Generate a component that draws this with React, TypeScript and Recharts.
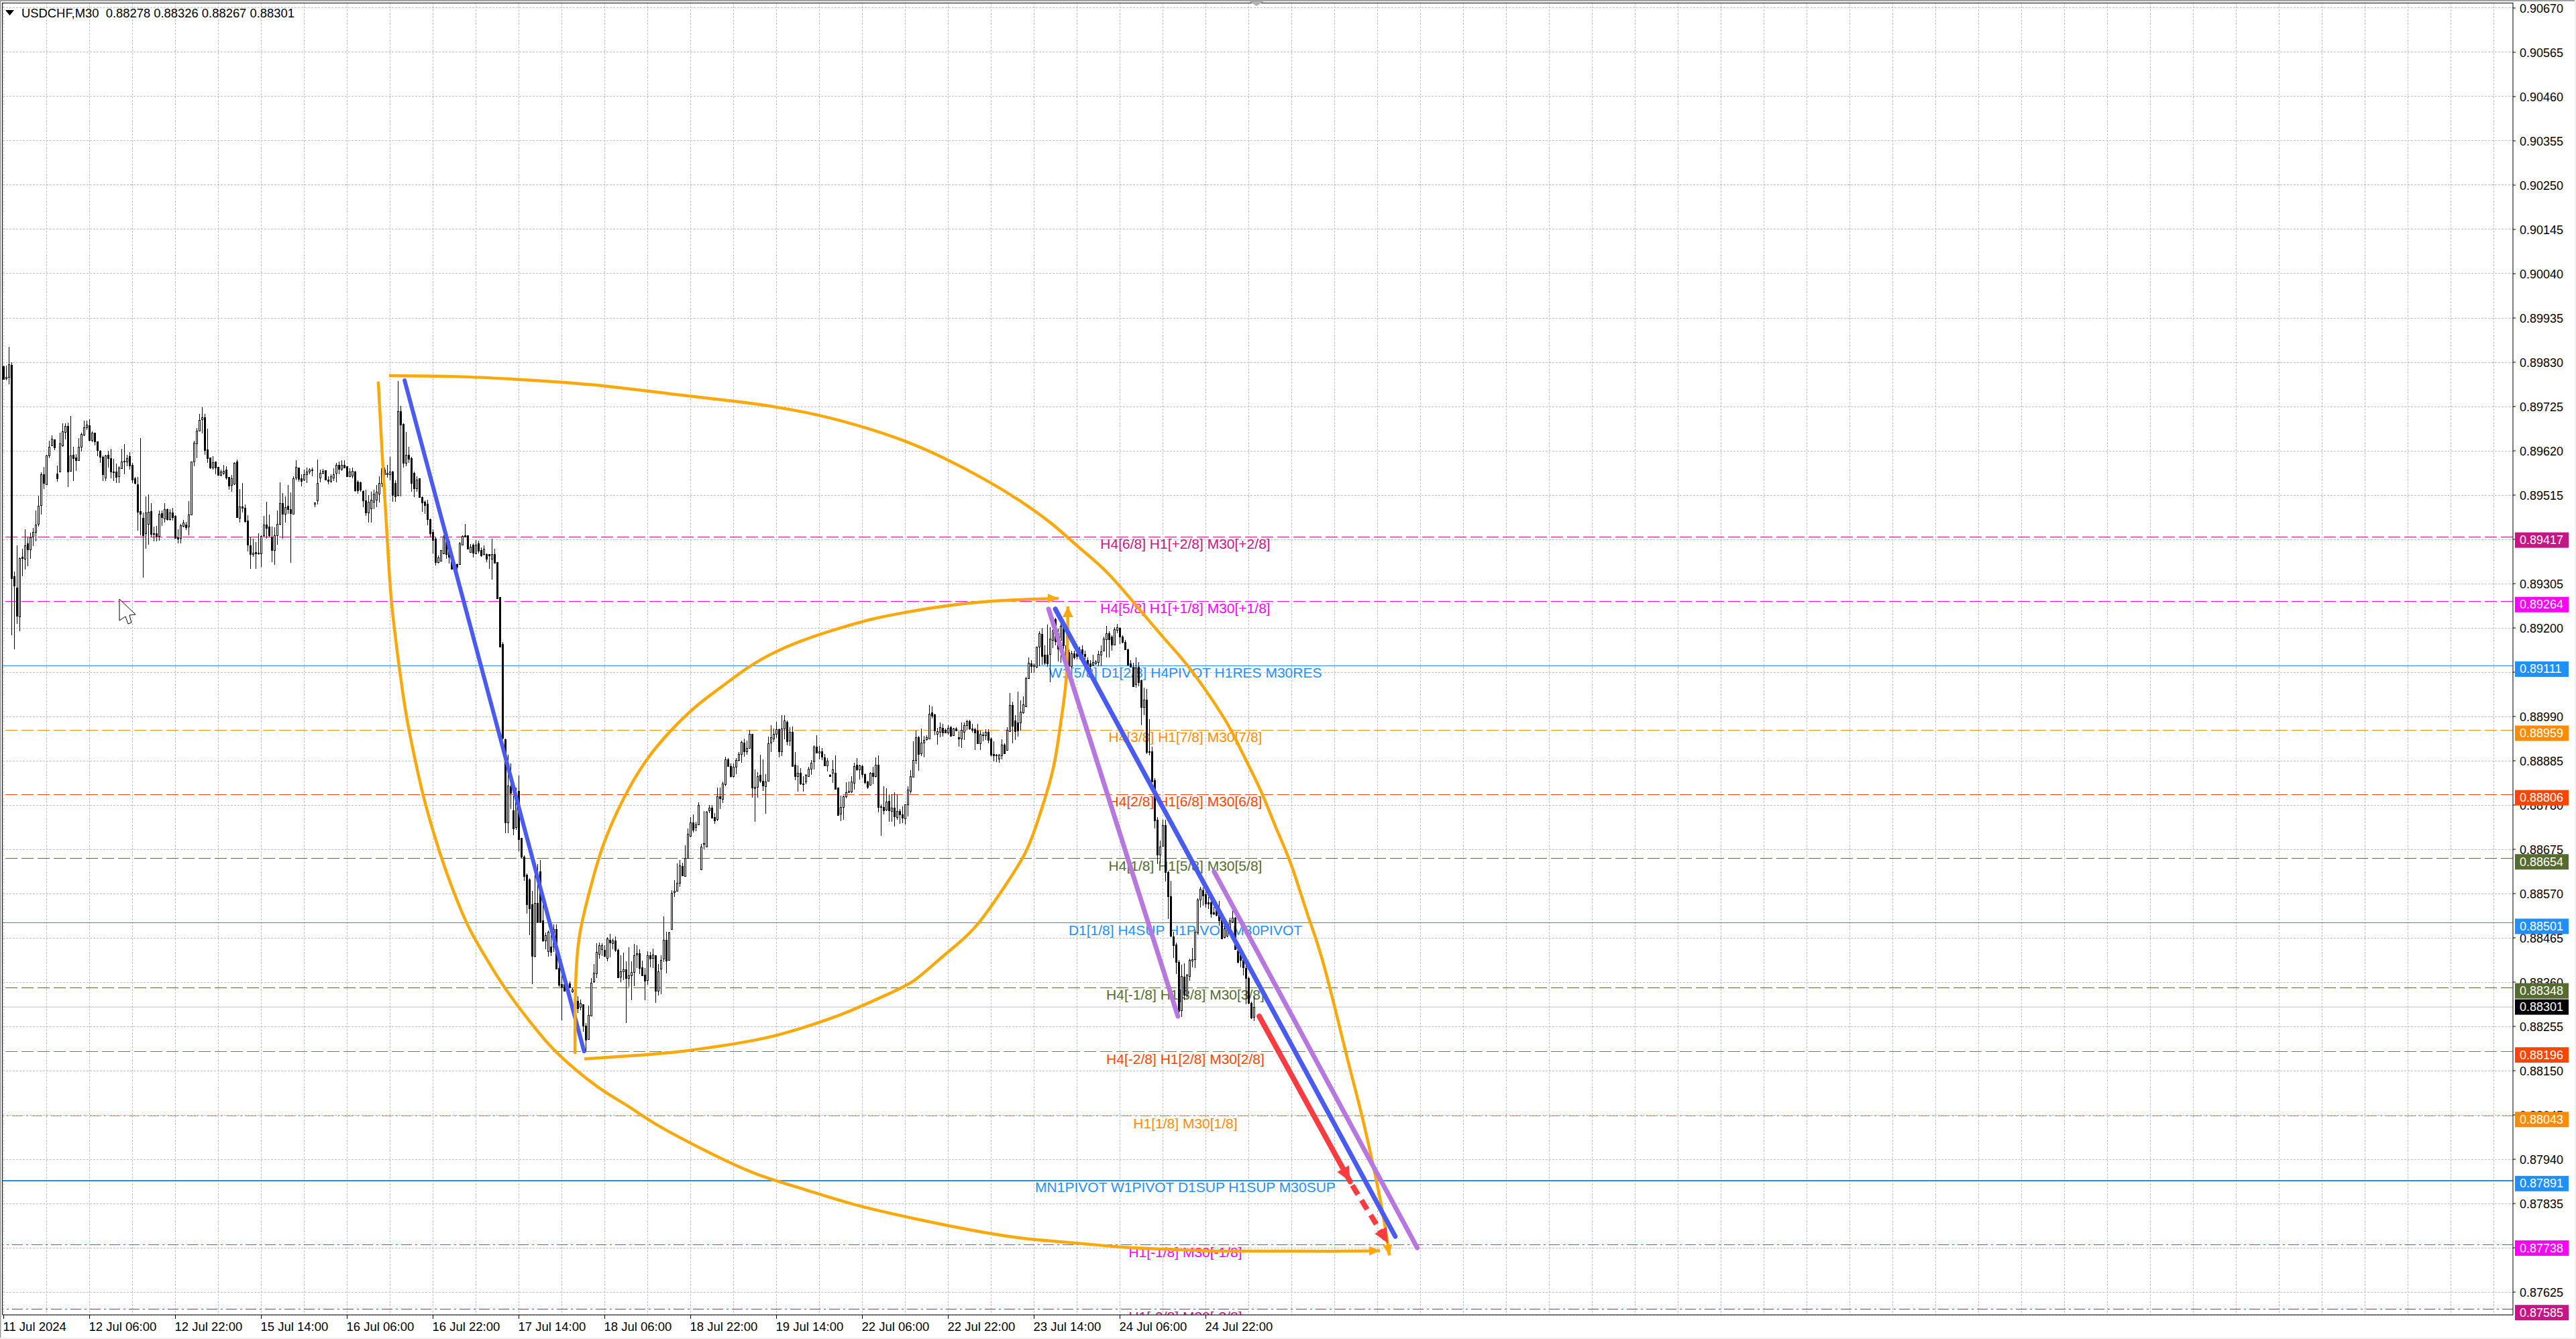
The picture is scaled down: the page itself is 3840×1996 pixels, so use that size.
import React from "react";
import {
  ComposedChart,
  Bar,
  Line,
  XAxis,
  YAxis,
  CartesianGrid,
  ReferenceLine,
} from "recharts";

// USDCHF M30 candles, prices in points (1e-5)
const opens = [
  89820, 89792, 89795, 89824, 89322, 89295, 89227, 89369, 89364, 89400,
  89386, 89416, 89427, 89446, 89491, 89564, 89541, 89609, 89633, 89647,
  89566, 89571, 89632, 89664, 89679, 89572, 89610, 89604, 89597, 89630,
  89658, 89676, 89681, 89646, 89663, 89642, 89620, 89605, 89557, 89610,
  89602, 89571, 89571, 89559, 89578, 89596, 89594, 89607, 89587, 89554,
  89541, 89477, 89461, 89424, 89446, 89477, 89424, 89424, 89418, 89472,
  89460, 89482, 89457, 89474, 89465, 89414, 89413, 89442, 89445, 89440,
  89469, 89594, 89638, 89668, 89694, 89699, 89623, 89604, 89580, 89594,
  89582, 89562, 89568, 89575, 89558, 89539, 89542, 89594, 89461, 89488,
  89484, 89454, 89396, 89375, 89379, 89378, 89376, 89419, 89445, 89441,
  89415, 89384, 89419, 89446, 89496, 89471, 89489, 89482, 89471, 89557,
  89580, 89555, 89552, 89564, 89571, 89575, 89494, 89503, 89557, 89568,
  89574, 89552, 89549, 89557, 89567, 89587, 89577, 89587, 89584, 89560,
  89561, 89571, 89547, 89546, 89525, 89502, 89473, 89483, 89499, 89504,
  89518, 89544, 89576, 89565, 89565, 89571, 89544, 89515, 89714, 89684,
  89592, 89610, 89603, 89568, 89531, 89555, 89511, 89499, 89494, 89457,
  89428, 89412, 89356, 89359, 89377, 89417, 89406, 89375, 89351, 89351,
  89351, 89398, 89419, 89419, 89380, 89398, 89377, 89401, 89385, 89375,
  89375, 89375, 89364, 89375, 89356, 89273, 89162, 88936, 88738, 88824,
  88768, 88727, 88813, 88702, 88658, 88614, 88604, 88544, 88422, 88548,
  88623, 88507, 88458, 88434, 88444, 88444, 88485, 88394, 88356, 88356,
  88343, 88357, 88337, 88321, 88315, 88301, 88307, 88256, 88225, 88280,
  88361, 88381, 88427, 88438, 88437, 88418, 88461, 88453, 88459, 88437,
  88372, 88385, 88390, 88370, 88376, 88384, 88425, 88429, 88395, 88377,
  88365, 88423, 88418, 88423, 88340, 88392, 88415, 88461, 88413, 88485,
  88574, 88577, 88596, 88636, 88611, 88655, 88707, 88738, 88727, 88734,
  88628, 88690, 88682, 88768, 88773, 88752, 88746, 88800, 88794, 88830,
  88889, 88872, 88848, 88870, 88887, 88901, 88928, 88908, 88915, 88948,
  88820, 88823, 88851, 88838, 88825, 88837, 88928, 88938, 88948, 88960,
  88908, 88961, 88978, 88932, 88954, 88875, 88849, 88857, 88831, 88835,
  88849, 88866, 88883, 88919, 88904, 88908, 88893, 88874, 88852, 88856,
  88857, 88821, 88759, 88775, 88801, 88811, 88812, 88833, 88876, 88864,
  88873, 88854, 88835, 88827, 88857, 88849, 88876, 88777, 88776, 88769,
  88789, 88766, 88774, 88752, 88765, 88757, 88749, 88781, 88813, 88847,
  88886, 88941, 88902, 88928, 88936, 88938, 88999, 88995, 88949, 88953,
  88963, 88958, 88952, 88965, 88945, 88962, 88941, 88938, 88953, 88970,
  88979, 88962, 88960, 88957, 88927, 88945, 88945, 88953, 88937, 88901,
  88899, 88890, 88898, 88924, 88911, 88955, 89017, 88980, 88976, 88976,
  88999, 89014, 89081, 89115, 89110, 89108, 89155, 89185, 89136, 89136,
  89138, 89172, 89221, 89188, 89172, 89203, 89159, 89143, 89110, 89140,
  89140, 89149, 89149, 89138, 89123, 89115, 89113, 89115, 89119, 89136,
  89146, 89173, 89187, 89179, 89160, 89195, 89200, 89180, 89166, 89149,
  89115, 89108, 89066, 89107, 89076, 89012, 89030, 88908, 88908, 88839,
  88745, 88663, 88683, 88733, 88621, 88563, 88469, 88449, 88408, 88294,
  88373, 88329, 88375, 88411, 88414, 88477, 88555, 88578, 88568, 88549,
  88549, 88526, 88533, 88519, 88510, 88466, 88470, 88484, 88503, 88513,
  88435, 88425, 88412, 88394, 88369, 88311, 88278,
];

const highs = [
  89822, 89822, 89866, 89830, 89334, 89395, 89367, 89388, 89434, 89417,
  89426, 89437, 89478, 89514, 89569, 89582, 89610, 89644, 89656, 89647,
  89585, 89663, 89686, 89685, 89687, 89702, 89629, 89612, 89650, 89663,
  89691, 89691, 89695, 89666, 89663, 89642, 89622, 89609, 89610, 89620,
  89625, 89601, 89589, 89584, 89624, 89636, 89610, 89617, 89591, 89558,
  89558, 89650, 89473, 89512, 89516, 89496, 89441, 89442, 89478, 89478,
  89496, 89483, 89482, 89485, 89467, 89434, 89446, 89456, 89451, 89501,
  89594, 89644, 89674, 89708, 89724, 89707, 89672, 89604, 89608, 89594,
  89582, 89575, 89587, 89584, 89558, 89562, 89593, 89600, 89529, 89543,
  89493, 89467, 89414, 89412, 89404, 89425, 89420, 89466, 89499, 89469,
  89441, 89438, 89478, 89545, 89520, 89512, 89539, 89522, 89560, 89597,
  89581, 89565, 89576, 89580, 89579, 89581, 89497, 89600, 89576, 89577,
  89574, 89560, 89565, 89579, 89592, 89594, 89598, 89597, 89584, 89579,
  89581, 89573, 89550, 89547, 89526, 89528, 89515, 89523, 89528, 89539,
  89560, 89595, 89581, 89587, 89605, 89573, 89550, 89785, 89727, 89685,
  89665, 89629, 89605, 89571, 89560, 89555, 89512, 89502, 89504, 89459,
  89434, 89414, 89372, 89385, 89420, 89420, 89406, 89375, 89361, 89353,
  89404, 89420, 89447, 89420, 89399, 89401, 89409, 89407, 89391, 89396,
  89377, 89375, 89411, 89388, 89356, 89274, 89166, 88938, 88900, 88878,
  88802, 88821, 88850, 88702, 88661, 88617, 88607, 88576, 88614, 88640,
  88650, 88544, 88478, 88482, 88500, 88497, 88497, 88403, 88381, 88359,
  88361, 88361, 88346, 88324, 88326, 88319, 88308, 88263, 88304, 88369,
  88403, 88452, 88454, 88453, 88447, 88467, 88474, 88463, 88468, 88439,
  88423, 88430, 88410, 88442, 88409, 88450, 88448, 88438, 88411, 88394,
  88434, 88432, 88439, 88424, 88403, 88424, 88516, 88480, 88480, 88578,
  88602, 88642, 88650, 88644, 88685, 88724, 88752, 88757, 88741, 88787,
  88687, 88765, 88766, 88780, 88780, 88761, 88821, 88821, 88835, 88894,
  88892, 88878, 88879, 88892, 88906, 88932, 88938, 88932, 88959, 88949,
  88865, 88858, 88900, 88888, 88854, 88943, 88970, 88961, 88977, 88962,
  88994, 88994, 88981, 88965, 88966, 88905, 88874, 88867, 88849, 88854,
  88870, 88886, 88922, 88945, 88920, 88916, 88901, 88892, 88853, 88887,
  88897, 88822, 88803, 88803, 88834, 88835, 88848, 88881, 88892, 88876,
  88875, 88855, 88838, 88858, 88871, 88893, 88897, 88782, 88824, 88820,
  88805, 88806, 88811, 88806, 88770, 88777, 88782, 88824, 88862, 88931,
  88957, 88944, 88962, 88944, 88945, 89017, 89014, 88996, 88963, 88975,
  88973, 88962, 88970, 88967, 88963, 88965, 88955, 88976, 88975, 88982,
  88982, 88973, 88963, 88972, 88957, 88953, 88960, 88960, 88940, 88931,
  88901, 88901, 88936, 88927, 88965, 89045, 89025, 88993, 89049, 89029,
  89038, 89084, 89130, 89123, 89115, 89156, 89192, 89200, 89159, 89208,
  89202, 89211, 89224, 89198, 89211, 89208, 89182, 89149, 89146, 89146,
  89153, 89156, 89159, 89146, 89130, 89123, 89136, 89123, 89146, 89159,
  89179, 89205, 89192, 89182, 89202, 89209, 89202, 89182, 89172, 89151,
  89123, 89117, 89130, 89119, 89078, 89058, 89055, 88983, 88918, 88843,
  88751, 88696, 88745, 88745, 88624, 88601, 88480, 88454, 88412, 88401,
  88405, 88379, 88415, 88441, 88484, 88559, 88586, 88585, 88575, 88562,
  88552, 88539, 88546, 88552, 88513, 88493, 88497, 88513, 88529, 88514,
  88441, 88431, 88418, 88408, 88373, 88314, 88326,
];

const lows = [
  89788, 89787, 89778, 89183, 89149, 89209, 89192, 89322, 89339, 89347,
  89364, 89394, 89406, 89441, 89469, 89530, 89539, 89602, 89632, 89621,
  89547, 89571, 89629, 89647, 89534, 89570, 89549, 89572, 89597, 89619,
  89655, 89669, 89642, 89640, 89632, 89608, 89592, 89549, 89549, 89581,
  89555, 89549, 89543, 89543, 89578, 89565, 89584, 89575, 89543, 89541,
  89430, 89420, 89320, 89387, 89397, 89414, 89406, 89405, 89407, 89442,
  89449, 89454, 89454, 89454, 89411, 89400, 89400, 89438, 89432, 89419,
  89467, 89584, 89602, 89666, 89662, 89611, 89592, 89577, 89576, 89565,
  89562, 89560, 89562, 89552, 89528, 89523, 89539, 89462, 89450, 89473,
  89450, 89382, 89340, 89368, 89340, 89374, 89345, 89417, 89412, 89417,
  89356, 89349, 89398, 89443, 89412, 89449, 89470, 89355, 89471, 89550,
  89547, 89535, 89549, 89544, 89565, 89560, 89487, 89492, 89546, 89565,
  89550, 89540, 89544, 89549, 89545, 89564, 89573, 89579, 89560, 89560,
  89555, 89523, 89518, 89523, 89486, 89465, 89450, 89450, 89481, 89486,
  89497, 89534, 89555, 89557, 89550, 89499, 89499, 89512, 89512, 89581,
  89584, 89592, 89523, 89510, 89523, 89510, 89475, 89470, 89444, 89417,
  89377, 89348, 89353, 89359, 89377, 89364, 89353, 89340, 89335, 89335,
  89349, 89396, 89414, 89386, 89380, 89367, 89375, 89377, 89369, 89372,
  89356, 89340, 89314, 89353, 89269, 89155, 88936, 88714, 88714, 88771,
  88708, 88721, 88670, 88655, 88601, 88522, 88472, 88356, 88419, 88500,
  88500, 88456, 88438, 88420, 88422, 88431, 88392, 88349, 88269, 88337,
  88340, 88346, 88334, 88280, 88287, 88293, 88242, 88195, 88224, 88279,
  88359, 88369, 88416, 88422, 88419, 88410, 88419, 88438, 88431, 88370,
  88360, 88365, 88263, 88349, 88317, 88351, 88393, 88379, 88375, 88317,
  88354, 88395, 88393, 88310, 88329, 88332, 88408, 88380, 88411, 88484,
  88562, 88575, 88586, 88611, 88610, 88653, 88703, 88715, 88718, 88732,
  88627, 88675, 88681, 88761, 88749, 88736, 88742, 88770, 88785, 88825,
  88872, 88845, 88846, 88853, 88883, 88881, 88895, 88899, 88915, 88798,
  88740, 88798, 88833, 88814, 88760, 88835, 88905, 88929, 88939, 88893,
  88896, 88936, 88922, 88920, 88871, 88839, 88812, 88828, 88812, 88830,
  88847, 88851, 88865, 88903, 88888, 88887, 88874, 88859, 88847, 88833,
  88818, 88756, 88742, 88745, 88796, 88809, 88808, 88816, 88861, 88840,
  88846, 88830, 88819, 88826, 88830, 88846, 88763, 88707, 88757, 88766,
  88740, 88740, 88729, 88745, 88736, 88737, 88734, 88753, 88807, 88846,
  88877, 88861, 88896, 88893, 88932, 88936, 88986, 88945, 88923, 88940,
  88942, 88950, 88947, 88942, 88944, 88955, 88918, 88916, 88934, 88958,
  88959, 88952, 88911, 88925, 88910, 88931, 88934, 88927, 88895, 88884,
  88882, 88880, 88888, 88901, 88910, 88953, 88927, 88934, 88942, 88957,
  88996, 89012, 89079, 89094, 89094, 89104, 89110, 89112, 89113, 89108,
  89071, 89153, 89159, 89120, 89117, 89133, 89110, 89086, 89104, 89126,
  89126, 89126, 89133, 89126, 89106, 89100, 89110, 89113, 89110, 89110,
  89145, 89130, 89130, 89146, 89159, 89187, 89162, 89164, 89147, 89112,
  89107, 89061, 89058, 89061, 88970, 88993, 88901, 88898, 88834, 88725,
  88640, 88642, 88681, 88598, 88510, 88467, 88418, 88379, 88278, 88277,
  88317, 88324, 88363, 88395, 88394, 88474, 88536, 88542, 88536, 88533,
  88513, 88519, 88516, 88493, 88462, 88464, 88467, 88480, 88500, 88436,
  88405, 88395, 88376, 88307, 88307, 88273, 88267,
];

const closes = [
  89791, 89795, 89825, 89318, 89301, 89229, 89366, 89366, 89396, 89386,
  89415, 89427, 89445, 89490, 89564, 89543, 89609, 89629, 89648, 89628,
  89554, 89637, 89666, 89679, 89571, 89609, 89602, 89597, 89629, 89660,
  89676, 89682, 89646, 89663, 89643, 89621, 89606, 89564, 89609, 89602,
  89570, 89570, 89558, 89581, 89595, 89594, 89603, 89585, 89551, 89543,
  89476, 89470, 89420, 89474, 89475, 89423, 89423, 89418, 89470, 89463,
  89482, 89457, 89474, 89462, 89413, 89412, 89443, 89450, 89438, 89469,
  89594, 89639, 89668, 89693, 89699, 89621, 89602, 89581, 89593, 89581,
  89562, 89571, 89573, 89557, 89537, 89554, 89591, 89462, 89488, 89484,
  89453, 89397, 89375, 89378, 89377, 89376, 89418, 89445, 89437, 89419,
  89384, 89419, 89447, 89496, 89471, 89487, 89481, 89472, 89555, 89582,
  89553, 89549, 89564, 89571, 89575, 89574, 89497, 89544, 89568, 89573,
  89552, 89548, 89559, 89565, 89587, 89577, 89587, 89581, 89560, 89571,
  89573, 89526, 89526, 89528, 89503, 89473, 89499, 89504, 89518, 89523,
  89544, 89579, 89565, 89568, 89571, 89515, 89512, 89714, 89682, 89592,
  89610, 89601, 89544, 89531, 89552, 89511, 89497, 89491, 89457, 89425,
  89409, 89356, 89367, 89384, 89417, 89375, 89369, 89340, 89343, 89345,
  89401, 89418, 89417, 89388, 89393, 89378, 89398, 89383, 89372, 89388,
  89364, 89372, 89375, 89354, 89270, 89155, 88939, 88738, 88826, 88809,
  88724, 88802, 88699, 88658, 88611, 88544, 88535, 88422, 88548, 88504,
  88504, 88458, 88472, 88480, 88431, 88485, 88392, 88353, 88349, 88340,
  88353, 88349, 88343, 88293, 88298, 88310, 88256, 88223, 88282, 88359,
  88383, 88431, 88447, 88447, 88422, 88463, 88454, 88458, 88437, 88371,
  88386, 88390, 88370, 88376, 88384, 88424, 88429, 88393, 88376, 88363,
  88423, 88416, 88425, 88340, 88386, 88413, 88460, 88411, 88478, 88572,
  88577, 88596, 88637, 88613, 88655, 88712, 88739, 88721, 88734, 88780,
  88682, 88689, 88764, 88774, 88750, 88743, 88800, 88796, 88831, 88889,
  88872, 88848, 88870, 88886, 88901, 88929, 88908, 88916, 88948, 88821,
  88823, 88848, 88837, 88826, 88835, 88927, 88940, 88948, 88960, 88908,
  88962, 88980, 88931, 88954, 88872, 88848, 88856, 88831, 88830, 88851,
  88866, 88881, 88919, 88904, 88908, 88894, 88874, 88885, 88849, 88864,
  88819, 88756, 88776, 88800, 88811, 88814, 88835, 88872, 88865, 88874,
  88854, 88834, 88823, 88856, 88849, 88875, 88775, 88775, 88768, 88788,
  88767, 88773, 88753, 88766, 88758, 88750, 88781, 88816, 88848, 88886,
  88940, 88901, 88928, 88935, 88940, 88997, 88992, 88957, 88955, 88964,
  88952, 88952, 88963, 88944, 88962, 88957, 88937, 88958, 88970, 88979,
  88962, 88958, 88952, 88927, 88949, 88947, 88953, 88934, 88899, 88897,
  88897, 88899, 88924, 88903, 88958, 89017, 88967, 88955, 88957, 89001,
  89019, 89081, 89117, 89110, 89113, 89155, 89188, 89133, 89117, 89115,
  89175, 89194, 89169, 89151, 89205, 89159, 89126, 89110, 89140, 89130,
  89133, 89136, 89136, 89133, 89113, 89110, 89119, 89121, 89138, 89145,
  89175, 89187, 89173, 89160, 89197, 89201, 89180, 89166, 89149, 89113,
  89108, 89062, 89106, 89071, 89012, 89030, 88905, 88905, 88836, 88743,
  88662, 88681, 88733, 88621, 88563, 88470, 88448, 88408, 88291, 88375,
  88330, 88377, 88412, 88414, 88480, 88555, 88581, 88565, 88546, 88546,
  88523, 88523, 88519, 88506, 88464, 88487, 88484, 88506, 88513, 88438,
  88408, 88412, 88395, 88369, 88311, 88275, 88301,
];

const timeLabels = [
  "11 Jul 2024", "12 Jul 06:00", "12 Jul 22:00", "15 Jul 14:00", "16 Jul 06:00",
  "16 Jul 22:00", "17 Jul 14:00", "18 Jul 06:00", "18 Jul 22:00", "19 Jul 14:00",
  "22 Jul 06:00", "22 Jul 22:00", "23 Jul 14:00", "24 Jul 06:00", "24 Jul 22:00",
];

const priceTicks = [
  0.9067, 0.90565, 0.9046, 0.90355, 0.9025, 0.90145, 0.9004, 0.89935, 0.8983, 0.89725,
  0.8962, 0.89515, 0.8941, 0.89305, 0.892, 0.89095, 0.8899, 0.88885, 0.8878, 0.88675,
  0.8857, 0.88465, 0.8836, 0.88255, 0.8815, 0.88045, 0.8794, 0.87835, 0.8773, 0.87625,
];

// Murrey math levels
const levelPrices = [
  0.89417, 0.89264, 0.89111, 0.88959, 0.88806, 0.88654, 0.88501,
  0.88348, 0.88196, 0.88043, 0.87891, 0.87738, 0.87585,
];
const levelTexts = [
  "H4[6/8] H1[+2/8] M30[+2/8]",
  "H4[5/8] H1[+1/8] M30[+1/8]",
  "W1[5/8] D1[2/8] H4PIVOT H1RES M30RES",
  "H4[3/8] H1[7/8] M30[7/8]",
  "H4[2/8] H1[6/8] M30[6/8]",
  "H4[1/8] H1[5/8] M30[5/8]",
  "D1[1/8] H4SUP H1PIVOT M30PIVOT",
  "H4[-1/8] H1[3/8] M30[3/8]",
  "H4[-2/8] H1[2/8] M30[2/8]",
  "H1[1/8] M30[1/8]",
  "MN1PIVOT W1PIVOT D1SUP H1SUP M30SUP",
  "H1[-1/8] M30[-1/8]",
  "H1[-2/8] M30[-2/8]",
];
const levelColors = [
  "#c71585", "#ff00ff", "#1e90ff", "#ff8c00", "#ff4500", "#556b2f", "#1e90ff",
  "#556b2f", "#ff4500", "#ff8c00", "#1e90ff", "#ff00ff", "#c71585",
];
const levelDashes = [
  "18 6", "18 6", "", "18 6", "18 6", "18 6", "",
  "18 6", "18 6", "16 5 3 5", "", "16 5 3 5", "16 5 3 5",
];
const lastPrice = 0.88301;

// hand drawn objects: bar number and price in points
const arcOuterBars = [139.6, 141, 142.9, 144.6, 147.6, 150.1, 153.4, 157.4, 162.9, 167.6, 173.1, 179.6, 186.8, 196.4, 206.6, 221.1, 232.4, 243.6, 261.9, 280.1, 298.6, 316.9, 341.1, 365.9, 383.6, 399.9, 418.3, 433.1, 448.1, 466.6, 485.1, 498.6, 512.9];
const arcOuterPrices = [89784, 89618, 89416, 89257, 89098, 88991, 88885, 88777, 88660, 88576, 88493, 88419, 88346, 88264, 88190, 88113, 88067, 88021, 87959, 87906, 87868, 87833, 87797, 87766, 87750, 87741, 87731, 87727, 87723, 87722, 87722, 87722, 87723];
const arcRiseBars = [212.9, 213.1, 214.6, 218.6, 223.6, 231.1, 239.4, 248.6, 258.6, 268.1, 277.4, 288.6, 301.1, 312.4, 323.1, 335.4, 347.6, 359.9, 372.1, 382.6, 393.1];
const arcRisePrices = [88190, 88344, 88470, 88582, 88688, 88796, 88885, 88956, 89017, 89063, 89106, 89146, 89178, 89201, 89220, 89236, 89249, 89259, 89265, 89268, 89270];
const arcBaseBars = [216.4, 239.4, 255.4, 280.4, 296.9, 313.6, 330.4, 339.1, 346.9, 355.4, 362.9, 371.9, 379.4, 383.6, 388.6, 391.9, 394.4, 396.1, 396.6];
const arcBasePrices = [88178, 88188, 88198, 88223, 88250, 88287, 88334, 88363, 88404, 88450, 88497, 88576, 88651, 88710, 88807, 88891, 88996, 89093, 89251];
const arcTopBars = [143.6, 168.6, 189.9, 218.6, 248.6, 274.1, 289.4, 304.6, 319.9, 335.4, 350.6, 365.9, 378.1, 390.4, 401.1, 411.9, 425.4, 433.9, 442.5, 454.9, 461.6, 468.4, 474.1, 479.9, 486.1, 492.3, 500.9, 506.4, 513.1, 516.4];
const arcTopPrices = [89798, 89796, 89790, 89777, 89755, 89736, 89722, 89703, 89677, 89644, 89602, 89551, 89504, 89448, 89389, 89327, 89228, 89165, 89100, 88985, 88904, 88815, 88727, 88637, 88517, 88393, 88175, 88037, 87841, 87712];

const blueFirstBars = [149.4, 216.3];
const blueFirstPrices = [89787, 88196];
const blueSecondBars = [391.9, 518.6];
const blueSecondPrices = [89245, 87757];
const purpleFirstBars = [389.4, 437.6];
const purpleFirstPrices = [89245, 88279];
const purpleSecondBars = [451.1, 526.8];
const purpleSecondPrices = [88622, 87730];
const redBars = [467.9, 501.8];
const redPrices = [88279, 87887];
const redDashedBars = [502.6, 515.9];
const redDashedPrices = [87878, 87741];

const candleRows = closes.map((close, i) => ({
  bar: i,
  open: opens[i] / 100000,
  high: highs[i] / 100000,
  low: lows[i] / 100000,
  close: close / 100000,
  range: [lows[i] / 100000, highs[i] / 100000],
}));

const toPath = (bars: number[], prices: number[]) =>
  bars.map((bar, i) => ({ bar, price: prices[i] / 100000 }));

const PLOT_LEFT = 4;
const PLOT_TOP = 4;
const PLOT_BOTTOM = 1960;
const AXIS_X = 3746;

const ORANGE = "#fba90a";
const BLUE = "#4a5bf2";
const PURPLE = "#b678de";
const RED = "#fa3c40";

const gridBars = Array.from({ length: 59 }, (_, i) => i * 16);
const labelBars = timeLabels.map((_, i) => i * 32);

function Candle(props: any) {
  const { x, y, width, height, payload } = props;
  const c = Math.floor(x + width / 2) + 0.5;
  const yOf = (p: number) => y + ((payload.high - p) / (payload.high - payload.low)) * height;
  const top = Math.round(yOf(Math.max(payload.open, payload.close))) + 0.5;
  const bot = Math.round(yOf(Math.min(payload.open, payload.close))) + 0.5;
  const up = payload.close >= payload.open;
  return (
    <g shapeRendering="crispEdges">
      <line x1={c} x2={c} y1={y} y2={y + height} stroke="#000" strokeWidth={1} />
      <rect x={c - 1} y={top} width={2} height={Math.max(bot - top, 1)} fill={up ? "#fff" : "#000"} stroke="#000" strokeWidth={1} />
    </g>
  );
}

const arrowDot = (angle: number, len: number, half: number, color: string) => (props: any) => {
  const { cx, cy, index, points } = props;
  const isLast = points ? index === points.length - 1 : props.payload && props.payload.isTip;
  if (!isLast) return <g key={index} />;
  return (
    <path
      key={index}
      d={`M0 0 L${-len} ${-half} L${-len} ${half} Z`}
      fill={color}
      transform={`translate(${cx} ${cy}) rotate(${angle})`}
    />
  );
};

function TimeTick(props: any) {
  const { x, payload } = props;
  return (
    <text x={x - 1} y={PLOT_BOTTOM + 17} textAnchor="start" dominantBaseline="central" fontSize={18.5} fill="#000">
      {timeLabels[payload.value / 32]}
    </text>
  );
}

const levelShape = (i: number) => (props: any) => {
  const { x1, x2, y1 } = props;
  return (
    <g>
      <clipPath id={`levelClip${i}`}>
        <rect x={PLOT_LEFT} y={PLOT_TOP} width={AXIS_X - PLOT_LEFT} height={PLOT_BOTTOM - PLOT_TOP} />
      </clipPath>
      <line
        x1={x1}
        x2={x2}
        y1={Math.round(y1) + 0.5}
        y2={Math.round(y1) + 0.5}
        stroke={levelColors[i]}
        strokeWidth={i === 10 ? 2 : 1}
        strokeDasharray={levelDashes[i]}
        shapeRendering="crispEdges"
      />
      <text
        x={1767}
        y={y1 + 11}
        textAnchor="middle"
        dominantBaseline="central"
        fontSize={21}
        fill={levelColors[i]}
        clipPath={`url(#levelClip${i})`}
      >
        {levelTexts[i]}
      </text>
    </g>
  );
};

const tagShape = (label: string, color: string, shift: number) => (props: any) => {
  const { y1 } = props;
  return (
    <g>
      <rect x={AXIS_X + 3} y={y1 + shift - 11.5} width={80} height={23} fill={color} />
      <text x={AXIS_X + 10} y={y1 + shift} dominantBaseline="central" fontSize={18} fill="#fff">
        {label}
      </text>
    </g>
  );
};

export default function App() {
  return (
    <div
      style={{
        position: "absolute",
        left: 0,
        top: 0,
        width: 3840,
        height: 1996,
        background: "#fff",
        fontFamily: "'Liberation Sans', Arial, sans-serif",
      }}
    >
      <ComposedChart
        width={3840}
        height={1996}
        data={candleRows}
        margin={{ top: PLOT_TOP, right: 0, left: PLOT_LEFT, bottom: 0 }}
      >
        <CartesianGrid
          stroke="#c0c0c0"
          strokeDasharray="3 2"
          verticalValues={gridBars}
          shapeRendering="crispEdges"
        />
        <XAxis
          xAxisId={0}
          type="number"
          dataKey="bar"
          domain={[-0.375, 935.125]}
          allowDataOverflow
          ticks={labelBars}
          interval={0}
          height={36}
          stroke="#000"
          tickSize={6}
          tick={TimeTick}
        />
        <YAxis
          yAxisId={0}
          orientation="right"
          width={94}
          domain={[0.87571, 0.906827]}
          allowDataOverflow
          ticks={priceTicks}
          interval={0}
          stroke="#000"
          tickSize={4}
          tickMargin={6}
          tick={{ fill: "#000", fontSize: 18, dy: 1 }}
          tickFormatter={(v: number) => v.toFixed(5)}
        />

        {levelPrices.map((price, i) => (
          <ReferenceLine key={`level${i}`} y={price} shape={levelShape(i)} ifOverflow="visible" zIndex={-50} />
        ))}
        <ReferenceLine y={lastPrice} stroke="#c0c0c0" strokeWidth={1} zIndex={-50} />

        <Bar dataKey="range" barSize={3} shape={Candle} isAnimationActive={false} />

        <Line data={toPath(blueFirstBars, blueFirstPrices)} dataKey="price" type="linear" stroke={BLUE} strokeWidth={6} strokeLinecap="round" dot={false} isAnimationActive={false} />
        <Line data={toPath(arcOuterBars, arcOuterPrices)} dataKey="price" type="natural" stroke={ORANGE} strokeWidth={4.5} dot={arrowDot(0, 16, 7, ORANGE)} isAnimationActive={false} />
        <Line data={toPath(arcRiseBars, arcRisePrices)} dataKey="price" type="natural" stroke={ORANGE} strokeWidth={4.5} dot={arrowDot(0, 16, 7, ORANGE)} isAnimationActive={false} />
        <Line data={toPath(arcBaseBars, arcBasePrices)} dataKey="price" type="natural" stroke={ORANGE} strokeWidth={4.5} dot={arrowDot(-90, 16, 8, ORANGE)} isAnimationActive={false} />
        <Line data={toPath(arcTopBars, arcTopPrices)} dataKey="price" type="natural" stroke={ORANGE} strokeWidth={4.5} dot={arrowDot(80, 16, 7, ORANGE)} isAnimationActive={false} />
        <Line data={toPath(purpleFirstBars, purpleFirstPrices)} dataKey="price" type="linear" stroke={PURPLE} strokeWidth={7} strokeLinecap="round" dot={false} isAnimationActive={false} />
        <Line data={toPath(purpleSecondBars, purpleSecondPrices)} dataKey="price" type="linear" stroke={PURPLE} strokeWidth={7} strokeLinecap="round" dot={false} isAnimationActive={false} />
        <Line data={toPath(blueSecondBars, blueSecondPrices)} dataKey="price" type="linear" stroke={BLUE} strokeWidth={7} strokeLinecap="round" dot={false} isAnimationActive={false} />
        <Line data={toPath(redBars, redPrices)} dataKey="price" type="linear" stroke={RED} strokeWidth={8} strokeLinecap="round" dot={arrowDot(61, 22, 10, RED)} isAnimationActive={false} />
        <Line data={toPath(redDashedBars, redDashedPrices)} dataKey="price" type="linear" stroke={RED} strokeWidth={8} strokeDasharray="16 10" dot={arrowDot(60, 22, 10, RED)} isAnimationActive={false} />

        {levelPrices.map((price, i) => (
          <ReferenceLine
            key={`tag${i}`}
            y={price}
            ifOverflow="visible"
            zIndex={3000}
            shape={tagShape(price.toFixed(5), levelColors[i], 5.5)}
          />
        ))}
        <ReferenceLine y={lastPrice} ifOverflow="visible" zIndex={3000} shape={tagShape(lastPrice.toFixed(5), "#000", 0)} />
      </ComposedChart>

      {/* window chrome on top of the chart */}
      <svg width={3840} height={1996} style={{ position: "absolute", left: 0, top: 0, pointerEvents: "none" }}>
        <rect x={0} y={0} width={3840} height={2} fill="#a0a0a0" />
        <rect x={0} y={0} width={1.5} height={1996} fill="#a0a0a0" />
        <rect x={0} y={1994} width={3840} height={2} fill="#f0f0f0" />
        <rect x={3838} y={0} width={2} height={1996} fill="#f0f0f0" />
        <line x1={3.5} x2={3.5} y1={PLOT_TOP} y2={PLOT_BOTTOM} stroke="#000" shapeRendering="crispEdges" />
        <line x1={3} x2={AXIS_X} y1={4.5} y2={4.5} stroke="#000" shapeRendering="crispEdges" />
        <polygon points="1862,2 1884,2 1873,9" fill="#b0b0b0" />
        <polygon points="8,15 21,15 14.5,23" fill="#000" />
        <text x={32} y={19} dominantBaseline="central" fontSize={18.4} fill="#000" xmlSpace="preserve">
          USDCHF,M30  0.88278 0.88326 0.88267 0.88301
        </text>
        <polygon
          points="178,893 202,916 193,917 196,928 191,930 187,919 178,925"
          fill="#fff"
          stroke="#000"
          strokeWidth={1}
        />
      </svg>
    </div>
  );
}
